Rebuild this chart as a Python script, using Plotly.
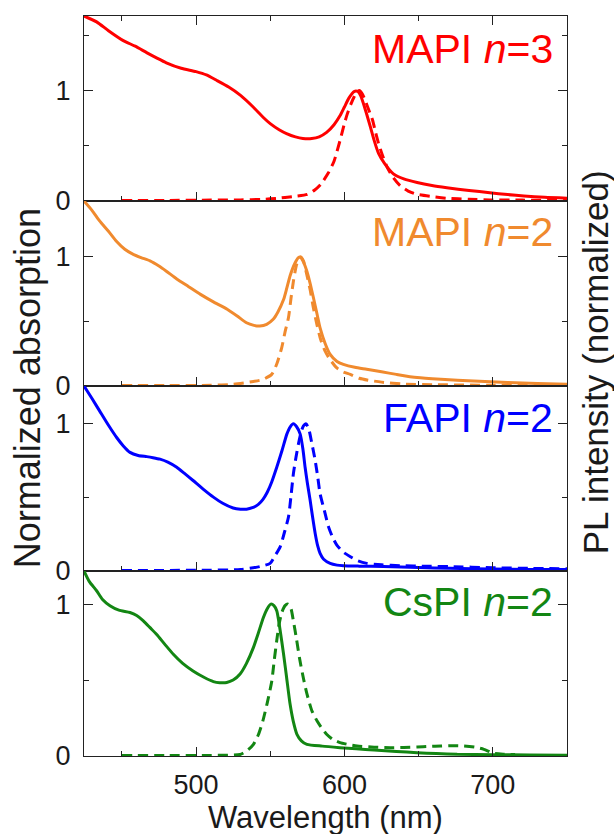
import plotly.graph_objects as go
from plotly.subplots import make_subplots

# ---------------- data ----------------
panel_names = ["MAPI <i>n</i>=3", "MAPI <i>n</i>=2", "FAPI <i>n</i>=2", "CsPI <i>n</i>=2"]
panel_colors = ["#ff0000", "#f08a2e", "#0000ff", "#138613"]

mapi3_abs_wl = [424.5, 433, 441, 451, 459, 467, 474, 480, 490, 500, 507, 514, 522, 530, 538.5, 545, 550, 556, 561, 567,
                572, 578, 583, 588, 593, 597, 600, 603, 606.5, 609, 611, 614, 617.5, 620, 623, 627, 633, 640, 649, 659,
                669, 684, 698, 710, 721, 735, 750]
mapi3_abs = [1.673, 1.62, 1.54, 1.45, 1.40, 1.34, 1.29, 1.25, 1.20, 1.17, 1.14, 1.09, 1.03, 0.955, 0.85, 0.76, 0.70, 0.645,
             0.61, 0.58, 0.566, 0.565, 0.58, 0.62, 0.69, 0.77, 0.85, 0.93, 0.99, 0.99, 0.95, 0.83, 0.67, 0.55, 0.43, 0.34,
             0.245, 0.20, 0.167, 0.14, 0.12, 0.095, 0.075, 0.058, 0.045, 0.033, 0.025]
mapi3_pl_wl = [450, 480, 510, 530, 545, 555, 565, 575, 580, 584, 589, 593, 597, 600, 602, 604.5, 606.5, 608.5, 610, 612,
               614, 616.5, 619, 621, 623, 626, 629, 633, 637.5, 643, 649, 659, 669, 684, 698, 720, 750]
mapi3_pl = [0.005, 0.005, 0.008, 0.01, 0.015, 0.025, 0.04, 0.06, 0.10, 0.15, 0.25, 0.36, 0.545, 0.70, 0.79, 0.88, 0.94,
            0.985, 1.0, 0.97, 0.91, 0.82, 0.73, 0.62, 0.52, 0.40, 0.30, 0.21, 0.14, 0.09, 0.06, 0.04, 0.025, 0.015, 0.01,
            0.008, 0.007]

mapi2_abs_wl = [424.5, 430, 435, 441, 446.5, 452, 457.7, 463, 469, 475, 480, 487, 495, 503, 512, 521, 528, 534, 539, 543,
                547.6, 552, 555, 559, 561.2, 563.4, 566.8, 569, 570.2, 572, 574.7, 577, 579.2, 581.5, 583.6, 587, 590.4,
                595, 599.3, 607, 615, 625, 635, 649, 665, 687, 710, 730, 750]
mapi2_abs = [1.434, 1.36, 1.28, 1.20, 1.12, 1.06, 1.02, 0.995, 0.97, 0.93, 0.89, 0.83, 0.77, 0.71, 0.65, 0.595, 0.54,
             0.49, 0.47, 0.465, 0.478, 0.517, 0.57, 0.67, 0.76, 0.855, 0.955, 0.995, 1.0, 0.97, 0.89, 0.79, 0.68, 0.56,
             0.45, 0.33, 0.245, 0.19, 0.168, 0.145, 0.13, 0.11, 0.09, 0.065, 0.052, 0.039, 0.028, 0.02, 0.013]
mapi2_pl_wl = [450, 480, 510, 525, 538.7, 545, 551, 554.4, 557.8, 560, 562.3, 564, 565.6, 567.5, 569, 570.5, 572.4, 574.5,
               577, 579, 581.4, 584, 587, 590, 594.9, 599, 604, 610, 616, 625, 640, 660, 700, 730]
mapi2_pl = [0.003, 0.003, 0.005, 0.013, 0.035, 0.05, 0.09, 0.17, 0.30, 0.42, 0.53, 0.68, 0.81, 0.93, 0.98, 1.0, 0.97,
            0.87, 0.74, 0.61, 0.48, 0.36, 0.27, 0.21, 0.14, 0.11, 0.09, 0.06, 0.045, 0.03, 0.015, 0.01, 0.006, 0.005]

fapi2_abs_wl = [424.5, 430, 435, 441, 446.5, 451, 455.5, 461, 466.8, 471, 475.7, 481, 487, 492, 498, 505, 511.7, 518, 525,
                530, 534, 538, 542, 545, 548, 551, 554.4, 558, 561.2, 563.5, 565.6, 567.8, 570.2, 572, 573.5, 575, 576.9,
                578.5, 580.3, 582, 583.6, 586, 590.4, 595, 599.3, 610, 626.3, 650, 671.3, 700, 725, 750]
fapi2_abs = [1.257, 1.17, 1.088, 0.99, 0.907, 0.85, 0.806, 0.785, 0.777, 0.77, 0.76, 0.74, 0.705, 0.665, 0.615, 0.555,
             0.502, 0.46, 0.428, 0.42, 0.42, 0.43, 0.453, 0.485, 0.535, 0.605, 0.705, 0.82, 0.93, 0.98, 1.0, 0.98, 0.93,
             0.83, 0.705, 0.60, 0.48, 0.37, 0.255, 0.17, 0.12, 0.08, 0.052, 0.04, 0.036, 0.033, 0.03, 0.024, 0.018, 0.013,
             0.011, 0.01]
fapi2_pl_wl = [450, 500, 530, 543, 549.9, 553, 556.7, 559.5, 562.3, 564, 565.6, 567.3, 569, 570.7, 572.4, 574, 575.7, 578,
               580.3, 582, 583.6, 586.5, 589.3, 592, 594.9, 599, 604, 609, 615.1, 625, 637.6, 655, 671, 700, 725, 750]
fapi2_pl = [0.003, 0.005, 0.01, 0.03, 0.052, 0.10, 0.164, 0.26, 0.367, 0.51, 0.66, 0.77, 0.863, 0.94, 0.986, 1.0, 0.975,
            0.87, 0.75, 0.64, 0.525, 0.41, 0.30, 0.23, 0.176, 0.13, 0.097, 0.07, 0.052, 0.042, 0.036, 0.032, 0.03, 0.022,
            0.018, 0.015]

cspi2_abs_wl = [424.5, 428, 433, 437, 442, 448, 455.5, 460, 464.5, 469, 473.5, 479, 484.7, 491, 498, 505, 511.7, 516,
                520.7, 525, 529.7, 534, 538.7, 542, 545.4, 548, 550.4, 552.5, 554.4, 556.5, 559, 561, 563.4, 565.5, 568,
                571, 574.7, 585, 597, 608, 620, 635, 649, 662, 676, 700, 725, 750]
cspi2_abs = [1.218, 1.15, 1.088, 1.03, 0.989, 0.96, 0.945, 0.925, 0.89, 0.845, 0.80, 0.735, 0.67, 0.61, 0.56, 0.52, 0.49,
             0.483, 0.484, 0.50, 0.54, 0.61, 0.715, 0.81, 0.912, 0.97, 1.0, 0.99, 0.956, 0.84, 0.67, 0.52, 0.34, 0.23,
             0.143, 0.10, 0.077, 0.065, 0.055, 0.047, 0.04, 0.03, 0.022, 0.016, 0.011, 0.009, 0.007, 0.005]
cspi2_pl_wl = [450, 480, 510, 529.7, 535, 538.7, 542, 545, 548, 551, 552.7, 554.4, 556, 557.8, 560, 562, 564, 565.6,
               567.7, 570, 572.4, 574.7, 578, 581.6, 585, 588, 592, 597, 603, 608.6, 620, 631, 640, 649, 657, 665, 673,
               680.5, 688, 694, 700.6, 707, 715]
cspi2_pl = [0.003, 0.003, 0.004, 0.01, 0.04, 0.077, 0.14, 0.23, 0.35, 0.49, 0.63, 0.76, 0.87, 0.945, 0.99, 1.0, 0.97,
            0.89, 0.77, 0.63, 0.51, 0.41, 0.30, 0.23, 0.18, 0.143, 0.11, 0.088, 0.075, 0.066, 0.058, 0.055, 0.056, 0.059,
            0.063, 0.066, 0.068, 0.066, 0.058, 0.044, 0.018, 0.012, 0.01]

x_range = [424.5, 750]

panels = [
    (mapi3_abs_wl, mapi3_abs, mapi3_pl_wl, mapi3_pl),
    (mapi2_abs_wl, mapi2_abs, mapi2_pl_wl, mapi2_pl),
    (fapi2_abs_wl, fapi2_abs, fapi2_pl_wl, fapi2_pl),
    (cspi2_abs_wl, cspi2_abs, cspi2_pl_wl, cspi2_pl),
]

# ---------------- figure ----------------
W, H = 614, 834
ML, MR, MT, MB = 84, 47, 16, 78
fig = make_subplots(rows=4, cols=1, shared_xaxes=True, vertical_spacing=0)

font_family = "Liberation Sans, Arial, sans-serif"
axis_col = "#222222"
text_col = "#1a1a1a"
TICK_SIZE = 27

for i, (awl, av, pwl, pv) in enumerate(panels):
    r = i + 1
    c = panel_colors[i]
    fig.add_trace(go.Scatter(x=pwl, y=pv, mode="lines",
                             line=dict(color=c, width=3, dash="10px,6px", shape="spline", smoothing=0.6),
                             showlegend=False, hoverinfo="skip"), row=r, col=1)
    fig.add_trace(go.Scatter(x=awl, y=av, mode="lines",
                             line=dict(color=c, width=3, shape="spline", smoothing=0.6),
                             showlegend=False, hoverinfo="skip"), row=r, col=1)
    ymax = max(av)
    fig.update_yaxes(row=r, col=1, range=[0, ymax], tick0=0, dtick=1, ticks="inside", ticklen=9, tickwidth=1.3,
                     tickcolor=axis_col, showline=True, linecolor=axis_col, linewidth=1.3, mirror="ticks",
                     showgrid=False, zeroline=False,
                     tickfont=dict(family=font_family, size=TICK_SIZE, color=text_col), ticklabelstandoff=7,
                     minor=dict(dtick=0.5, tick0=0, ticks="inside", ticklen=5, tickwidth=1.3, tickcolor=axis_col,
                                showgrid=False))
    fig.update_xaxes(row=r, col=1, range=x_range, tick0=0, dtick=100, ticks="inside", ticklen=9, tickwidth=1.3,
                     tickcolor=axis_col, showline=True, linecolor=axis_col, linewidth=1.3,
                     mirror=("ticks" if r == 1 else True), showgrid=False, zeroline=False,
                     showticklabels=(r == 4),
                     tickfont=dict(family=font_family, size=TICK_SIZE, color=text_col), ticklabelstandoff=4,
                     minor=dict(dtick=50, tick0=0, ticks="inside", ticklen=5, tickwidth=1.3, tickcolor=axis_col,
                                showgrid=False))

# panel labels
label_y = [0.955, 0.708, 0.457, 0.208]
annotations = []
for i in range(4):
    annotations.append(dict(text=panel_names[i], xref="paper", yref="paper", x=(555 - ML) / (W - ML - MR),
                            y=label_y[i], xanchor="right", yanchor="middle", showarrow=False,
                            font=dict(family=font_family, size=41, color=panel_colors[i])))

annotations.append(dict(text="Wavelength (nm)", xref="paper", yref="paper", x=0.5, y=-0.083,
                        xanchor="center", yanchor="middle", showarrow=False,
                        font=dict(family=font_family, size=31, color=text_col)))
annotations.append(dict(text="Normalized absorption", xref="paper", yref="paper", x=(27 - ML) / (W - ML - MR),
                        y=0.497, xanchor="center", yanchor="middle", textangle=-90, showarrow=False,
                        font=dict(family=font_family, size=36, color=text_col)))
annotations.append(dict(text="PL intensity (normalized)", xref="paper", yref="paper",
                        x=(595 - ML) / (W - ML - MR), y=0.532, xanchor="center", yanchor="middle",
                        textangle=-90, showarrow=False,
                        font=dict(family=font_family, size=35, color=text_col)))

fig.update_layout(width=W, height=H, margin=dict(l=ML, r=MR, t=MT, b=MB, autoexpand=False),
                  paper_bgcolor="white", plot_bgcolor="white", annotations=annotations,
                  font=dict(family=font_family))

fig.write_html("out.html", config={"displayModeBar": False},
               post_script="document.body.style.margin='0';document.body.style.padding='0';"
                           "document.documentElement.style.overflow='hidden';")
